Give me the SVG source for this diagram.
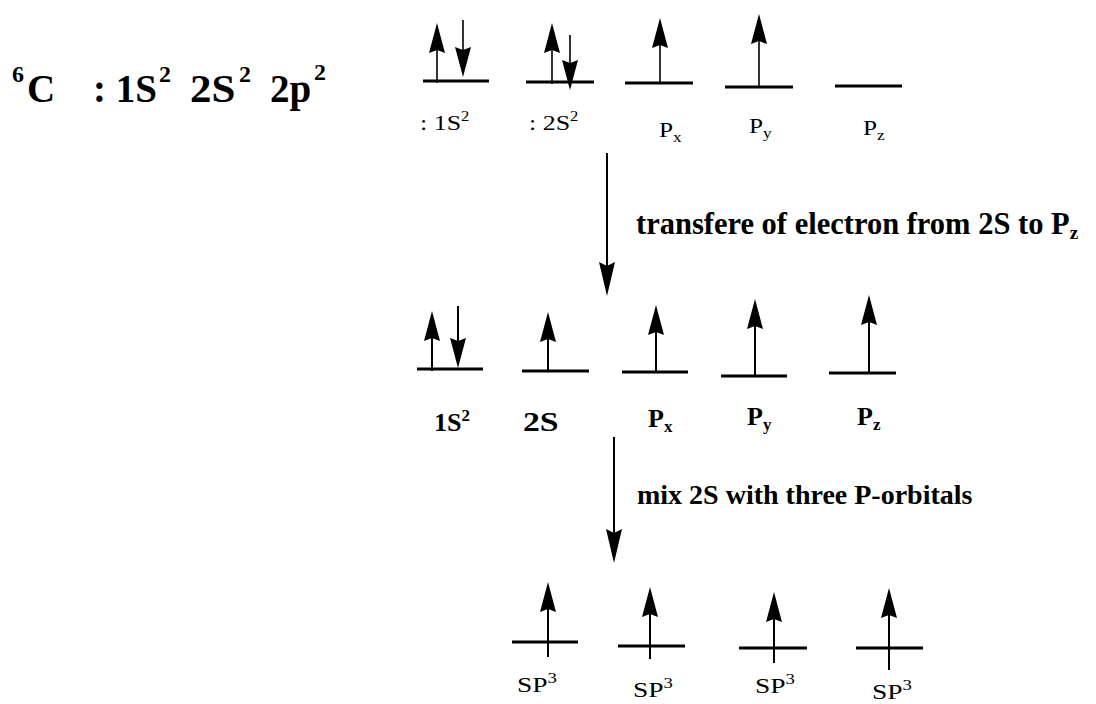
<svg xmlns="http://www.w3.org/2000/svg" xmlns:xlink="http://www.w3.org/1999/xlink" width="1096" height="704" viewBox="0 0 1096 704">
<style>
.lvl{stroke:#000;stroke-width:3;fill:none}
.sh{stroke:#000;stroke-width:2;fill:none}
.shT{stroke:#000;stroke-width:1.6;fill:none}
.hd{fill:#000}
.reg{font-family:"Liberation Serif","Times New Roman",serif;fill:#000}
.bld{font-family:"Liberation Serif","Times New Roman",serif;font-weight:bold;fill:#000}
</style>
<defs>
<path id="up" d="M0,0 L8,30 L0,27 L-8,30 Z"/>
<path id="dn" d="M0,0 L8,-30 L0,-27 L-8,-30 Z"/>
</defs>
<rect width="1096" height="704" fill="#fff"/>

<g id="title">
<text class="bld" x="12" y="82" font-size="24">6</text>
<text class="bld" x="27" y="102" font-size="39">C</text>
<text class="bld" x="93" y="102" font-size="39">: 1S</text>
<text class="bld" x="159" y="82" font-size="24">2</text>
<text class="bld" transform="translate(190 102) scale(1.1 1)" font-size="39">2S</text>
<text class="bld" x="239" y="82" font-size="24">2</text>
<text class="bld" x="270" y="102" font-size="39">2p</text>
<text class="bld" x="314" y="80" font-size="24">2</text>
</g>

<!-- top row -->
<g id="top-1s">
<line class="lvl" x1="423" y1="81" x2="489" y2="81"/>
<line class="shT" x1="437" y1="50" x2="437" y2="83"/>
<use href="#up" x="437" y="23" class="hd"/>
<line class="shT" x1="463" y1="20" x2="463" y2="50"/>
<use href="#dn" x="463" y="77" class="hd"/>
<text class="reg" transform="translate(420 130) scale(1.18 1)" font-size="22">: 1S<tspan font-size="14" dy="-9">2</tspan></text>
</g>
<g id="top-2s">
<line class="lvl" x1="526" y1="82" x2="594" y2="82"/>
<line class="shT" x1="552" y1="50" x2="552" y2="84"/>
<use href="#up" x="552" y="23" class="hd"/>
<line class="shT" x1="570" y1="35" x2="570" y2="63"/>
<use href="#dn" x="570" y="90" class="hd"/>
<text class="reg" transform="translate(529 130) scale(1.18 1)" font-size="22">:  2S<tspan font-size="14" dy="-9">2</tspan></text>
</g>
<g id="top-px">
<line class="lvl" x1="625" y1="83" x2="693" y2="83"/>
<line class="shT" x1="660" y1="45" x2="660" y2="83"/>
<use href="#up" x="660" y="18" class="hd"/>
<text class="reg" transform="translate(659 137) scale(1.15 1)" font-size="22">P<tspan font-size="15" dy="5">x</tspan></text>
</g>
<g id="top-py">
<line class="lvl" x1="725" y1="87" x2="793" y2="87"/>
<line class="shT" x1="759" y1="41" x2="759" y2="87"/>
<use href="#up" x="759" y="14" class="hd"/>
<text class="reg" transform="translate(749 133) scale(1.15 1)" font-size="22">P<tspan font-size="15" dy="5">y</tspan></text>
</g>
<g id="top-pz">
<line class="lvl" x1="835" y1="86" x2="902" y2="86"/>
<text class="reg" transform="translate(863 135) scale(1.15 1)" font-size="22">P<tspan font-size="15" dy="5">z</tspan></text>
</g>

<!-- middle row -->
<g id="mid-1s">
<line class="lvl" x1="417" y1="369" x2="483" y2="369"/>
<line class="sh" x1="432" y1="338" x2="432" y2="371"/>
<use href="#up" x="432" y="311" class="hd"/>
<line class="sh" x1="458" y1="306" x2="458" y2="342"/>
<use href="#dn" x="458" y="368" class="hd"/>
<text class="bld" x="434" y="431" font-size="26">1S<tspan font-size="17" dy="-10">2</tspan></text>
</g>
<g id="mid-2s">
<line class="lvl" x1="522" y1="371" x2="589" y2="371"/>
<line class="sh" x1="548" y1="339" x2="548" y2="371"/>
<use href="#up" x="548" y="312" class="hd"/>
<text class="bld" transform="translate(523 431) scale(1.25 1)" font-size="27">2S</text>
</g>
<g id="mid-px">
<line class="lvl" x1="622" y1="372" x2="688" y2="372"/>
<line class="sh" x1="656" y1="332" x2="656" y2="372"/>
<use href="#up" x="656" y="305" class="hd"/>
<text class="bld" x="648" y="427" font-size="26">P<tspan font-size="17" dy="5">x</tspan></text>
</g>
<g id="mid-py">
<line class="lvl" x1="721" y1="376" x2="787" y2="376"/>
<line class="sh" x1="755" y1="326" x2="755" y2="376"/>
<use href="#up" x="755" y="299" class="hd"/>
<text class="bld" x="747" y="425" font-size="26">P<tspan font-size="17" dy="5">y</tspan></text>
</g>
<g id="mid-pz">
<line class="lvl" x1="829" y1="373" x2="896" y2="373"/>
<line class="sh" x1="869" y1="322" x2="869" y2="373"/>
<use href="#up" x="869" y="295" class="hd"/>
<text class="bld" x="857" y="425" font-size="26">P<tspan font-size="17" dy="5">z</tspan></text>
</g>

<!-- sp3 row -->
<g id="sp3-1">
<line class="lvl" x1="512" y1="642" x2="578" y2="642"/>
<line class="sh" x1="548" y1="608" x2="548" y2="657"/>
<use href="#up" x="548" y="582" class="hd"/>
<text class="reg" transform="translate(517 692) scale(1.25 1)" font-size="22">SP<tspan font-size="15" dy="-9">3</tspan></text>
</g>
<g id="sp3-2">
<line class="lvl" x1="618" y1="646" x2="685" y2="646"/>
<line class="sh" x1="650" y1="613" x2="650" y2="659"/>
<use href="#up" x="650" y="587" class="hd"/>
<text class="reg" transform="translate(633 697) scale(1.25 1)" font-size="22">SP<tspan font-size="15" dy="-9">3</tspan></text>
</g>
<g id="sp3-3">
<line class="lvl" x1="739" y1="648" x2="807" y2="648"/>
<line class="sh" x1="774" y1="618" x2="774" y2="663"/>
<use href="#up" x="774" y="592" class="hd"/>
<text class="reg" transform="translate(755 693) scale(1.25 1)" font-size="22">SP<tspan font-size="15" dy="-9">3</tspan></text>
</g>
<g id="sp3-4">
<line class="lvl" x1="856" y1="648" x2="923" y2="648"/>
<line class="sh" x1="889" y1="614" x2="889" y2="670"/>
<use href="#up" x="889" y="588" class="hd"/>
<text class="reg" transform="translate(872 699) scale(1.25 1)" font-size="22">SP<tspan font-size="15" dy="-9">3</tspan></text>
</g>

<g id="connectors">
<line class="sh" x1="607" y1="153" x2="607" y2="268"/>
<path class="hd" d="M607,296 L599,262 L607,266 L615,262 Z"/>
<line class="sh" x1="614" y1="437" x2="614" y2="534"/>
<path class="hd" d="M614,563 L606,529 L614,533 L622,529 Z"/>
</g>
<g id="labels">
<text class="bld" x="636" y="234" font-size="30.5">transfere of electron from 2S to P<tspan font-size="19" dy="5">z</tspan></text>
<text class="bld" x="637" y="504" font-size="28">mix 2S with three P-orbitals</text>
</g>
</svg>
